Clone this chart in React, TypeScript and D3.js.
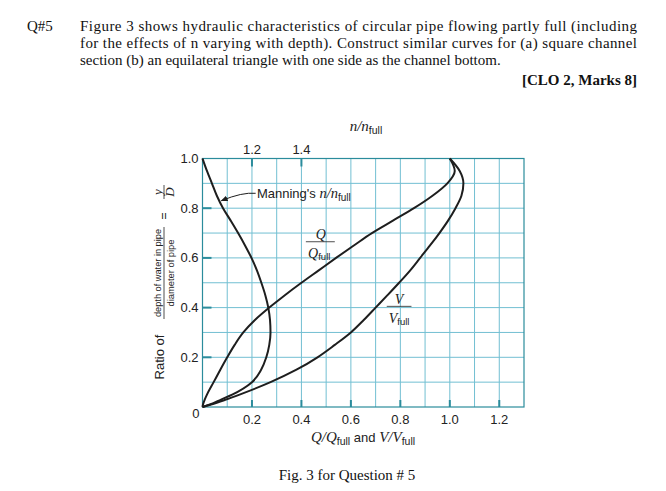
import React from 'react';
import * as d3 from 'd3';

// depth ratio y/D (shared by all three curves)
const depth = [0, 0.01, 0.03, 0.05, 0.1, 0.15, 0.2, 0.25, 0.3, 0.35, 0.4, 0.45, 0.5, 0.55, 0.6, 0.65, 0.7, 0.75, 0.8, 0.85, 0.9, 0.95, 1.0];
// Manning's n/n_full
const manning = [1.0, 1.03, 1.075, 1.12, 1.2, 1.237, 1.258, 1.27, 1.275, 1.273, 1.266, 1.254, 1.238, 1.22, 1.198, 1.172, 1.144, 1.114, 1.083, 1.058, 1.038, 1.018, 1.0];
// Q/Q_full
const qRatio = [0, 0.002, 0.009, 0.018, 0.045, 0.072, 0.1, 0.13, 0.165, 0.212, 0.27, 0.333, 0.4, 0.47, 0.54, 0.612, 0.685, 0.77, 0.855, 0.93, 0.99, 1.02, 1.0];
// V/V_full
const vRatio = [0, 0.035, 0.095, 0.15, 0.275, 0.38, 0.465, 0.535, 0.6, 0.652, 0.7, 0.748, 0.795, 0.84, 0.88, 0.92, 0.958, 0.993, 1.023, 1.047, 1.055, 1.04, 1.0];

const bottomTicks = [0.2, 0.4, 0.6, 0.8, 1.0, 1.2];
const leftTicks = [0.2, 0.4, 0.6, 0.8, 1.0];
const topTicks = [1.2, 1.4];

const headerLines = [
  'Figure 3 shows hydraulic characteristics of circular pipe flowing partly full (including',
  'for the effects of n varying with depth). Construct similar curves for (a) square channel',
  'section (b) an equilateral triangle with one side as the channel bottom.',
];

const W = 666;
const H = 491;
const GRID = '#72bfd2';
const TICK = '#2b8c9c';
const INK = '#1e1e1e';
const SANS = '"Liberation Sans", Arial, sans-serif';
const SERIF = '"Liberation Serif", "Times New Roman", serif';

const x = d3.scaleLinear().domain([0, 1.3]).range([202.5, 524]);
const xn = d3.scaleLinear().domain([1.0, 2.3]).range([202.5, 524]);
const y = d3.scaleLinear().domain([0, 1]).range([407, 158.5]);

const line = d3
  .line<[number, number]>()
  .x((d) => d[0])
  .y((d) => d[1])
  .curve(d3.curveMonotoneY);

export default function App() {
  const manningPts: [number, number][] = depth.map((d, i) => [xn(manning[i]), y(d)]);
  const qPts: [number, number][] = depth.map((d, i) => [x(qRatio[i]), y(d)]);
  const vPts: [number, number][] = depth.map((d, i) => [x(vRatio[i]), y(d)]);

  const gridX = d3.range(1, 13).map((i) => i / 10);
  const gridY = d3.range(1, 10).map((i) => i / 10);

  // arrow tip on the Manning curve, near y/D = 0.83
  const k = depth.indexOf(0.8);
  const tipY = y(0.83);
  const tipX = xn(manning[k] + ((manning[k + 1] - manning[k]) * 0.03) / 0.05) + 2;

  return (
    <svg width={W} height={H} style={{ position: 'absolute', left: 0, top: 0 }}>
      <defs>
        <marker id="ah" viewBox="0 0 10 10" refX="9" refY="5" markerWidth="7" markerHeight="7" orient="auto">
          <path d="M0,1 L10,5 L0,9 Z" fill={INK} />
        </marker>
      </defs>
      <rect width={W} height={H} fill="#fff" />

      {/* header */}
      <g fontFamily={SERIF} fontSize={15} fill="#111">
        <text x={27} y={31}>Q#5</text>
        {headerLines.map((t, i) => (
          <text key={i} x={80} y={31 + i * 17} textLength={i < 2 ? 557 : undefined} lengthAdjust="spacing">
            {t}
          </text>
        ))}
        <text x={637} y={85} textAnchor="end" fontWeight="bold">[CLO 2, Marks 8]</text>
      </g>

      {/* grid */}
      <g stroke={GRID} strokeWidth={1}>
        {gridX.map((v) => (
          <line key={'gx' + v} x1={x(v)} x2={x(v)} y1={y(0)} y2={y(1)} />
        ))}
        {gridY.map((v) => (
          <line key={'gy' + v} x1={x(0)} x2={x(1.3)} y1={y(v)} y2={y(v)} />
        ))}
        <rect x={x(0)} y={y(1)} width={x(1.3) - x(0)} height={y(0) - y(1)} fill="none" stroke={TICK} strokeWidth={1.2} />
      </g>

      {/* tick marks */}
      <g stroke={TICK} strokeWidth={2}>
        {bottomTicks.map((v) => (
          <line key={'bt' + v} x1={x(v)} x2={x(v)} y1={y(0)} y2={y(0) - 7} />
        ))}
        {leftTicks.slice(0, 4).map((v) => (
          <line key={'lt' + v} x1={x(0)} x2={x(0) + 9} y1={y(v)} y2={y(v)} />
        ))}
        {topTicks.map((v) => (
          <line key={'tt' + v} x1={xn(v)} x2={xn(v)} y1={y(1)} y2={y(1) + 8} />
        ))}
      </g>

      {/* tick labels */}
      <g fontFamily={SANS} fontSize={13} fill="#222">
        {bottomTicks.map((v) => (
          <text key={'bl' + v} x={x(v)} y={y(0) + 17} textAnchor="middle">{v.toFixed(1)}</text>
        ))}
        <text x={x(0) - 3} y={y(0) + 11} textAnchor="end">0</text>
        {leftTicks.map((v) => (
          <text key={'ll' + v} x={x(0) - 4} y={y(v) + 4.5} textAnchor="end">{v.toFixed(1)}</text>
        ))}
        {topTicks.map((v) => (
          <text key={'tl' + v} x={xn(v)} y={y(1) - 5} textAnchor="middle">{v.toFixed(1)}</text>
        ))}
      </g>

      {/* curves */}
      <g fill="none" stroke={INK} strokeWidth={2}>
        <path d={line(manningPts) ?? ''} />
        <path d={line(qPts) ?? ''} />
        <path d={line(vPts) ?? ''} />
      </g>

      {/* top axis title */}
      <text x={366} y={131} textAnchor="middle" fill="#222">
        <tspan fontFamily={SERIF} fontStyle="italic" fontSize={15}>n/n</tspan>
        <tspan fontFamily={SANS} fontSize={10.5} dy={3}>full</tspan>
      </text>

      {/* bottom axis title */}
      <text x={363} y={442} textAnchor="middle" fill="#222">
        <tspan fontFamily={SERIF} fontStyle="italic" fontSize={15}>Q/Q</tspan>
        <tspan fontFamily={SANS} fontSize={10.5} dy={3}>full</tspan>
        <tspan fontFamily={SANS} fontSize={13} dy={-3}> and </tspan>
        <tspan fontFamily={SERIF} fontStyle="italic" fontSize={15}>V/V</tspan>
        <tspan fontFamily={SANS} fontSize={10.5} dy={3}>full</tspan>
      </text>

      {/* y axis title */}
      <g transform="translate(164,0) rotate(-90)" fill="#222">
        <text x={-357} y={-0.5} textAnchor="middle" fontFamily={SANS} fontSize={13}>Ratio of</text>
        <text x={-273} y={-3} textAnchor="middle" fontFamily={SANS} fontSize={9.5} textLength={88} lengthAdjust="spacingAndGlyphs">
          depth of water in pipe
        </text>
        <line x1={-319} x2={-227} y1={0} y2={0} stroke="#222" strokeWidth={0.8} />
        <text x={-273} y={9.5} textAnchor="middle" fontFamily={SANS} fontSize={9.5} textLength={67} lengthAdjust="spacingAndGlyphs">
          diameter of pipe
        </text>
        <text x={-216} y={3.5} textAnchor="middle" fontFamily={SANS} fontSize={12}>=</text>
        <text x={-192} y={-2.5} textAnchor="middle" fontFamily={SERIF} fontStyle="italic" fontSize={13}>y</text>
        <line x1={-199} x2={-185} y1={0} y2={0} stroke="#222" strokeWidth={0.8} />
        <text x={-192} y={10} textAnchor="middle" fontFamily={SERIF} fontStyle="italic" fontSize={13}>D</text>
      </g>

      {/* Manning label with leader */}
      <path
        d={`M ${xn(1.215)} ${y(0.86)} Q ${xn(1.16)} ${y(0.865)} ${tipX} ${tipY}`}
        fill="none"
        stroke={INK}
        strokeWidth={1}
        markerEnd="url(#ah)"
      />
      <text x={xn(1.22)} y={y(0.86) + 4.5} fill="#222">
        <tspan fontFamily={SANS} fontSize={13}>Manning's </tspan>
        <tspan fontFamily={SERIF} fontStyle="italic" fontSize={14.5}>n/n</tspan>
        <tspan fontFamily={SANS} fontSize={10} dy={3}>full</tspan>
      </text>

      {/* Q/Q_full label */}
      <g fill="#222">
        <text x={x(0.478)} y={y(0.675)} textAnchor="middle" fontFamily={SERIF} fontStyle="italic" fontSize={14}>Q</text>
        <line x1={x(0.418)} x2={x(0.535)} y1={y(0.665)} y2={y(0.665)} stroke="#222" strokeWidth={0.8} />
        <text x={x(0.472)} y={y(0.6)} textAnchor="middle">
          <tspan fontFamily={SERIF} fontStyle="italic" fontSize={14}>Q</tspan>
          <tspan fontFamily={SANS} fontSize={9.5} dy={2}>full</tspan>
        </text>
      </g>

      {/* V/V_full label */}
      <g fill="#222">
        <text x={x(0.795)} y={y(0.415)} textAnchor="middle" fontFamily={SERIF} fontStyle="italic" fontSize={14}>V</text>
        <line x1={x(0.745)} x2={x(0.845)} y1={y(0.405)} y2={y(0.405)} stroke="#222" strokeWidth={0.8} />
        <text x={x(0.795)} y={y(0.34)} textAnchor="middle">
          <tspan fontFamily={SERIF} fontStyle="italic" fontSize={14}>V</tspan>
          <tspan fontFamily={SANS} fontSize={9.5} dy={2}>full</tspan>
        </text>
      </g>

      {/* caption */}
      <text x={347} y={480} textAnchor="middle" fontFamily={SERIF} fontSize={15} fill="#111">
        Fig. 3 for Question # 5
      </text>
    </svg>
  );
}
